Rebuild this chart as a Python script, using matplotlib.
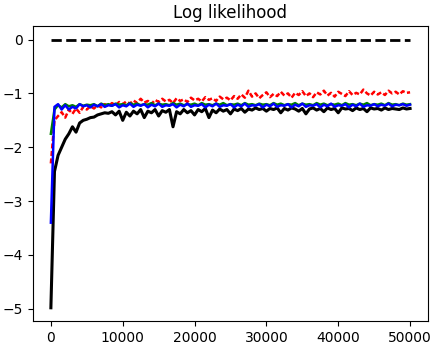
import matplotlib
matplotlib.use("Agg")
import matplotlib.pyplot as plt

iterations = list(range(0, 50001, 500))

ll_black = [
    -4.98, -2.45, -2.15, -2.00, -1.85, -1.75, -1.62, -1.72, -1.55, -1.50,
    -1.48, -1.45, -1.44, -1.40, -1.38, -1.36, -1.37, -1.34, -1.40, -1.33,
    -1.50, -1.35, -1.42, -1.33, -1.38, -1.30, -1.45, -1.33, -1.36, -1.30,
    -1.42, -1.32, -1.35, -1.30, -1.62, -1.34, -1.38, -1.30, -1.36, -1.32,
    -1.40, -1.30, -1.34, -1.28, -1.45, -1.31, -1.36, -1.29, -1.33, -1.30,
    -1.38, -1.29, -1.32, -1.28, -1.35, -1.29, -1.31, -1.27, -1.30, -1.28,
    -1.33, -1.28, -1.30, -1.27, -1.36, -1.28, -1.31, -1.27, -1.29, -1.33,
    -1.28, -1.38, -1.29, -1.27, -1.31, -1.28, -1.34, -1.27, -1.30, -1.28,
    -1.36, -1.27, -1.29, -1.28, -1.32, -1.27, -1.30, -1.28, -1.34, -1.27,
    -1.29, -1.28, -1.31, -1.27, -1.30, -1.28, -1.29, -1.30, -1.27, -1.29,
    -1.28,
]

ll_red = [
    -2.30, -1.50, -1.42, -1.35, -1.45, -1.30, -1.38, -1.28, -1.36, -1.25,
    -1.30, -1.24, -1.28, -1.22, -1.26, -1.20, -1.24, -1.18, -1.22, -1.16,
    -1.20, -1.15, -1.19, -1.13, -1.18, -1.10, -1.17, -1.14, -1.20, -1.12,
    -1.16, -1.10, -1.15, -1.12, -1.18, -1.09, -1.14, -1.11, -1.16, -1.08,
    -1.13, -1.10, -1.15, -1.07, -1.12, -1.09, -1.14, -1.06, -1.11, -1.08,
    -1.13, -1.05, -1.10, -1.02, -1.08, -0.95, -1.06, -1.00, -1.09, -1.03,
    -0.98, -1.07, -1.01, -1.05, -0.97, -1.04, -1.00, -1.08, -0.99, -1.03,
    -0.96, -1.05, -1.00, -1.07, -0.98, -1.02, -0.95, -1.04, -0.99, -1.06,
    -0.97, -1.01, -1.05, -0.96, -1.03, -0.99, -1.02, -0.93, -1.00, -1.04,
    -0.97, -1.02, -0.98, -1.03, -0.95, -1.00, -0.97, -1.02, -0.96, -0.99,
    -0.98,
]

ll_green = [
    -1.75, -1.30, -1.22, -1.26, -1.20, -1.24, -1.22, -1.25, -1.20, -1.23,
    -1.21, -1.22, -1.20, -1.24, -1.19, -1.22, -1.20, -1.23, -1.19, -1.21,
    -1.20, -1.22, -1.18, -1.21, -1.19, -1.22, -1.20, -1.21, -1.18, -1.22,
    -1.19, -1.21, -1.20, -1.22, -1.18, -1.21, -1.19, -1.22, -1.20, -1.21,
    -1.19, -1.22, -1.18, -1.21, -1.20, -1.22, -1.19, -1.21, -1.18, -1.22,
    -1.20, -1.21, -1.19, -1.22, -1.18, -1.21, -1.20, -1.22, -1.19, -1.21,
    -1.20, -1.22, -1.18, -1.21, -1.19, -1.22, -1.20, -1.21, -1.18, -1.22,
    -1.19, -1.21, -1.20, -1.22, -1.18, -1.21, -1.19, -1.22, -1.20, -1.21,
    -1.19, -1.22, -1.18, -1.21, -1.20, -1.22, -1.19, -1.21, -1.18, -1.22,
    -1.20, -1.21, -1.19, -1.22, -1.18, -1.21, -1.20, -1.22, -1.19, -1.21,
    -1.20,
]

ll_blue = [
    -3.40, -1.25, -1.20, -1.30, -1.22, -1.30, -1.25, -1.28, -1.20, -1.24,
    -1.22, -1.26, -1.21, -1.24, -1.20, -1.25, -1.22, -1.23, -1.20, -1.26,
    -1.22, -1.24, -1.19, -1.25, -1.21, -1.23, -1.20, -1.26, -1.21, -1.24,
    -1.19, -1.25, -1.22, -1.23, -1.20, -1.26, -1.21, -1.24, -1.19, -1.25,
    -1.22, -1.23, -1.20, -1.26, -1.21, -1.24, -1.19, -1.25, -1.22, -1.23,
    -1.20, -1.26, -1.21, -1.24, -1.19, -1.25, -1.22, -1.23, -1.20, -1.26,
    -1.21, -1.24, -1.19, -1.25, -1.22, -1.23, -1.20, -1.26, -1.21, -1.24,
    -1.19, -1.25, -1.22, -1.23, -1.20, -1.26, -1.21, -1.24, -1.19, -1.25,
    -1.22, -1.23, -1.20, -1.26, -1.21, -1.24, -1.19, -1.25, -1.22, -1.23,
    -1.20, -1.24, -1.21, -1.23, -1.19, -1.24, -1.21, -1.22, -1.20, -1.23,
    -1.21,
]

ll_true = [0.0] * len(iterations)

fig, ax = plt.subplots(figsize=(4.39, 3.48), dpi=100)
ax.plot(iterations, ll_true, "k--", linewidth=2)
ax.plot(iterations, ll_black, color="k", linewidth=2.2)
ax.plot(iterations, ll_red, "r--", linewidth=1.8, dashes=(2, 1))
ax.plot(iterations, ll_green, color="g", linewidth=1.8)
ax.plot(iterations, ll_blue, color="b", linewidth=1.8)
ax.set_title("Log likelihood")
ax.set_xticks([0, 10000, 20000, 30000, 40000, 50000])
fig.subplots_adjust(left=0.075, right=0.975, top=0.925, bottom=0.077)
fig.savefig("out.png")
